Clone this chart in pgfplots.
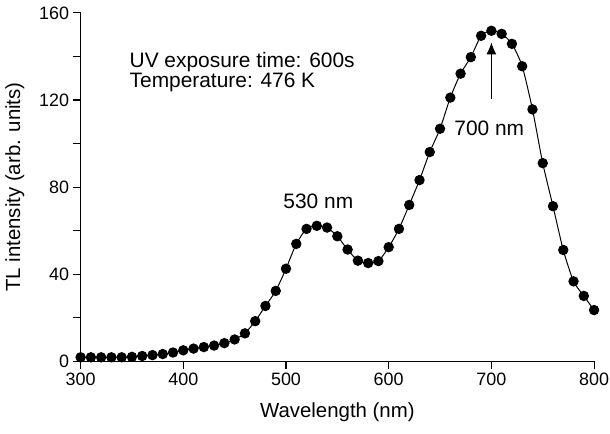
\documentclass[border=0pt]{standalone}
\usepackage{pgfplots}
\pgfplotsset{compat=1.18}
\usepackage{fontspec}
\setmainfont{Liberation Sans}
\usetikzlibrary{arrows.meta}

\begin{document}
\begin{tikzpicture}
\begin{axis}[
    at={(0,0)}, anchor=south west,
    scale only axis, width=516pt, height=350pt,
    xmin=300, xmax=800, ymin=0, ymax=160,
    axis lines=left, axis line style={-, line width=1.3pt},
    xtick={300,400,...,800}, ytick={0,40,...,160},
    minor ytick={20,60,100,140},
    tick align=outside, major tick length=8pt, minor tick length=8pt,
    tick style={black, line width=1.1pt},
    tick label style={font=\fontsize{18}{20}\selectfont},
    /pgf/number format/assume math mode=true,
    xlabel={Wavelength (nm)}, ylabel={TL intensity (arb. units)},
    label style={font=\fontsize{20.5}{22}\selectfont},
    x label style={at={(axis description cs:0.5,-0.1457)}, anchor=center},
    y label style={at={(axis description cs:-0.128,0.5)}, anchor=center},
    clip=false,
]
\addplot[black, line width=1pt, smooth, tension=0.4,
    mark=*, mark size=4.7pt, mark options={solid, fill=black}] coordinates {
(300,1.8) (310,1.8) (320,1.8) (330,1.8) (340,1.8) (350,2.0) (360,2.4)
(370,2.8) (380,3.3) (390,4.0) (400,5.0) (410,5.8) (420,6.5) (430,7.2)
(440,8.3) (450,10.0) (460,12.8) (470,18.4) (480,25.4) (490,32.3)
(500,42.5) (510,53.9) (520,60.8) (530,62.2) (540,61.4) (550,57.4)
(560,51.3) (570,46.2) (580,45.1) (590,46.0) (600,52.4) (610,60.8)
(620,71.8) (630,83.2) (640,96.1) (650,106.8) (660,121.1) (670,132.1)
(680,139.7) (690,149.5) (700,151.8) (710,150.4) (720,145.8) (730,135.5)
(740,115.7) (750,91.0) (760,71.2) (770,51.1) (780,36.7) (790,30.0)
(800,23.5)
};
\node[anchor=west, inner sep=0pt, font=\fontsize{21}{23}\selectfont]
    at (axis cs:347.6,137.6) {UV exposure time: 600s};
\node[anchor=west, inner sep=0pt, font=\fontsize{21}{23}\selectfont]
    at (axis cs:347.6,128) {Temperature: 476 K};
\node[font=\fontsize{21}{23}\selectfont] at (axis cs:531.5,73.6) {530 nm};
\node[font=\fontsize{21}{23}\selectfont] at (axis cs:698,107) {700 nm};
\draw[-{Latex[length=12pt,width=10pt]}, line width=1.2pt]
    (axis cs:700,120.5) -- (axis cs:700,146.5);
\end{axis}
\pgfresetboundingbox
\path[use as bounding box] (-81pt,-73pt) rectangle (532pt,363pt);
\end{tikzpicture}
\end{document}
